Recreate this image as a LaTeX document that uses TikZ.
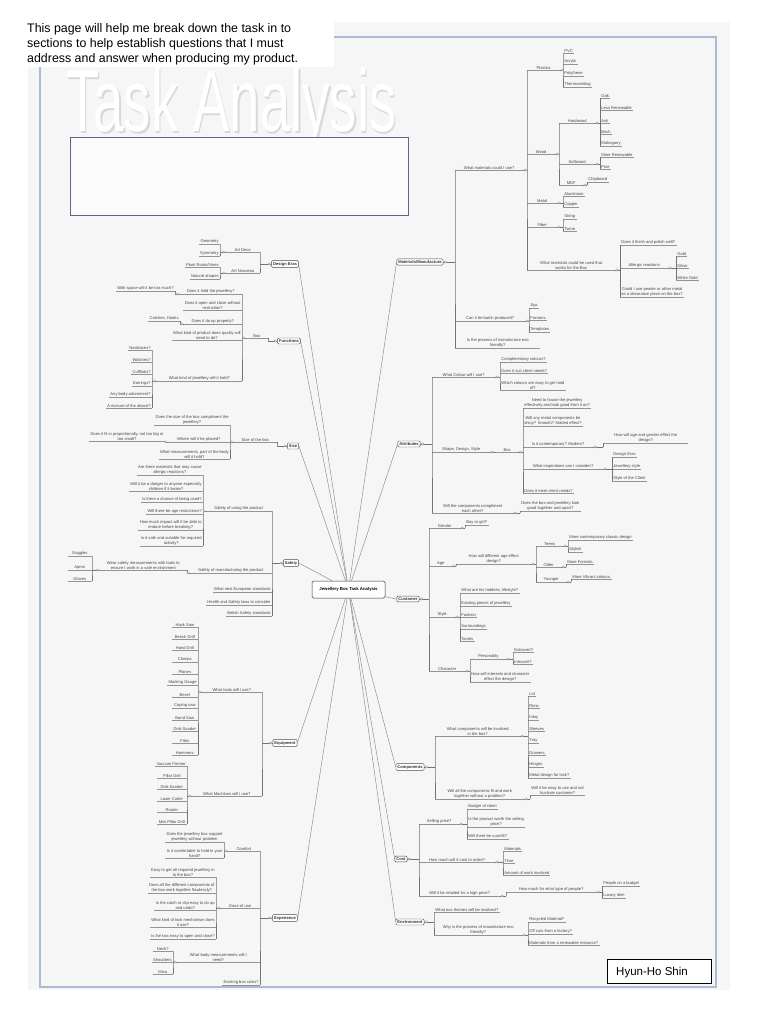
\documentclass[tikz,border=0pt]{standalone}
\usepackage{fontspec}
\setmainfont{Liberation Sans}
\definecolor{framebl}{RGB}{172,186,214}
\definecolor{boxbl}{RGB}{90,104,136}
\tikzset{
 it/.style={inner xsep=1.2pt, inner ysep=0.6pt, font=\fontsize{4.1}{4.7}\selectfont, text=black!72, align=center},
 ul/.style={draw=black!42, line width=0.4pt},
 br/.style={draw=black!55, line width=0.45pt},
 jc/.style={circle, draw=black!50, fill=white, inner sep=0pt, minimum size=2.4pt, line width=0.3pt},
 mn/.style={draw=black!70, fill=white, rounded corners=1pt, inner sep=1.5pt, font=\fontsize{4.1}{5}\selectfont\bfseries, text=black!80, line width=0.45pt},
 cn/.style={draw=black!50, line width=0.4pt},
}
\newcommand\ItR[5][]{\node[it,anchor=south west,#1] (#2) at (#3,#4) {#5};\draw[ul] (#2.south west) -- (#2.south east);}
\newcommand\ItL[5][]{\node[it,anchor=south east,#1] (#2) at (#3,#4) {#5};\draw[ul] (#2.south west) -- (#2.south east);}
\newcommand\CnR[3]{\draw[br] (#1.south east) -- (#1.south east -| #2.south west);
 \draw[br] (#2.south west) -- (#1.south east -| #2.south west) -- (#3.south west);
 \node[jc] at ([xshift=1.8pt]#1.south east) {};}
\newcommand\CnL[3]{\draw[br] (#1.south west) -- (#1.south west -| #2.south east);
 \draw[br] (#2.south east) -- (#1.south west -| #2.south east) -- (#3.south east);
 \node[jc] at ([xshift=-1.8pt]#1.south west) {};}
\newcommand\CnRM[3]{\draw[br] (#1.east) -- (#1.east -| #2.south west);
 \draw[br] (#2.south west) -- (#1.east -| #2.south west) -- (#3.south west);
 \node[jc] at ([xshift=2.2pt]#1.east) {};}
\newcommand\CnLM[3]{\draw[br] (#1.west) -- (#1.west -| #2.south east);
 \draw[br] (#2.south east) -- (#1.west -| #2.south east) -- (#3.south east);
 \node[jc] at ([xshift=-2.2pt]#1.west) {};}
\begin{document}
\begin{tikzpicture}[x=1pt,y=-1pt]
\useasboundingbox (0,0) rectangle (768,1024);
\fill[white] (0,0) rectangle (768,1024);
\fill[gray!7] (28,22) rectangle (730,990);
\draw[framebl, line width=1.3pt] (40,37) rectangle (716,987);
% watermark title
\node[anchor=north west, inner sep=0, text=gray!30] (wmk) at (67.5,69.5) {\scalebox{0.62}[1]{\fontsize{88}{88}\selectfont Task Analysis}};
\node[anchor=north west, inner sep=0, text=white] (wmk2) at (66,68) {\scalebox{0.62}[1]{\fontsize{88}{88}\selectfont Task Analysis}};
\draw[boxbl, line width=0.8pt, fill=gray!3] (70,137) rectangle (408,215);
% intro text
\fill[white] (24,17) rectangle (334,67);
\node[anchor=north west, inner sep=0, align=left, font=\fontsize{12.4}{15}\selectfont] (intro) at (27,23)
 {This page will help me break down the task in to\\sections to help establish questions that I must\\address and answer when producing my product.};
% signature
\node[draw=black, line width=0.9pt, fill=white, minimum width=104, minimum height=24, anchor=north west] (sigbox) at (607,959) {};
\node[anchor=base west, inner sep=0, font=\fontsize{11.5}{13}\selectfont] (sig) at (616,975) {Hyun-Ho Shin};
% centre
\node[draw=black!80, fill=white, rounded corners=1.5pt, minimum width=73, minimum height=17, font=\fontsize{4.3}{5}\selectfont\bfseries, line width=0.5pt] (cen) at (348.5,589.5) {Jewellery Box Task Analysis};

% ================= MATERIALS =================
\node[mn] (mat) at (420,262) {Materials/Manufacture};
\ItR[minimum width=68]{m1}{455}{170}{What materials could I use?}
\ItR[minimum width=70]{m2}{455}{321}{Can it be batch produced?}
\ItR[minimum width=85]{m3}{455}{348}{Is the process of manufacture eco\\friendly?}
\CnRM{mat}{m1}{m3}
\ItR[minimum width=33]{p0}{527}{70}{Plastics}
\ItR[minimum width=28]{w0}{527}{154}{Wood}
\ItR[minimum width=30]{me0}{527}{203}{Metal}
\ItR[minimum width=30]{f0}{527}{227}{Fiber}
\ItR[minimum width=88]{wm}{527}{270}{What materials could be used that\\works for the Box}
\CnR{m1}{p0}{wm}
\ItR{p1}{563}{53}{PVC}
\ItR{p2}{563}{64}{Acrylic}
\ItR{p3}{563}{76}{Polythene}
\ItR{p4}{563}{87}{Thermosetting}
\CnR{p0}{p1}{p4}
\ItR[minimum width=36]{hw}{559}{123}{Hardwood}
\ItR[minimum width=36]{sw}{559}{164}{Softwood}
\ItR[minimum width=24]{mdf}{559}{185}{MDF}
\CnR{w0}{hw}{mdf}
\ItR{h1}{600}{98}{Oak}
\ItR{h2}{600}{110}{Less Renewable}
\ItR{h3}{600}{123}{Ash}
\ItR{h4}{600}{134}{Birch}
\ItR{h5}{600}{146}{Mahogany}
\CnR{hw}{h1}{h5}
\ItR{sw1}{600}{157}{More Renewable}
\ItR{sw2}{600}{169}{Pine}
\CnR{sw}{sw1}{sw2}
\ItR{md1}{587}{182}{Chipboard}
\CnR{mdf}{md1}{md1}
\ItR{mt1}{563}{196}{Aluminium}
\ItR{mt2}{563}{207}{Copper}
\CnR{me0}{mt1}{mt2}
\ItR{fb1}{563}{219}{String}
\ItR{fb2}{563}{231}{Twine}
\CnR{f0}{fb1}{fb2}
\ItR{wm1}{620}{245}{Does it finish and polish well?}
\ItR[minimum width=48]{wm2}{620}{268}{Allergic reactions}
\ItR{wm3}{620}{297}{Could I use pewter or other metal\\as a decorative piece on the box?}
\CnR{wm}{wm1}{wm3}
\ItR{al1}{676}{256}{Gold}
\ItR{al2}{676}{268}{Silver}
\ItR{al3}{676}{280}{White Gold}
\CnR{wm2}{al1}{al3}
\ItR{bp1}{529}{308}{Jigs}
\ItR{bp2}{529}{320}{Formers}
\ItR{bp3}{529}{332}{Templates}
\CnR{m2}{bp1}{bp3}

% ================= ATTRIBUTES =================
\node[mn] (att) at (409,444) {Attributes};
\ItR[minimum width=63]{a1}{432}{377}{What Colour will I use?}
\ItR[minimum width=58]{a2}{432}{452}{Shape, Design, Style}
\ItR[minimum width=81]{a3}{432}{513}{Will the components compliment\\each other?}
\CnRM{att}{a1}{a3}
\ItR{a11}{500}{362}{Complimentary colours?}
\ItR{a12}{500}{373}{Does it suit client needs?}
\ItR{a13}{500}{390}{Which colours are easy to get hold\\of?}
\CnR{a1}{a11}{a13}
\ItR[minimum width=22]{abox}{496}{452}{Box}
\CnR{a2}{abox}{abox}
\ItR{ab1}{523}{408}{Need to house the jewellery\\effectively and look good from it on?}
\ItR{ab2}{523}{426}{Will any metal components be\\shiny? Smooth? Matted effect?}
\ItR[minimum width=70]{ab3}{523}{447}{Is it contemporary? Modern?}
\ItR[minimum width=80]{ab4}{523}{469}{What inspirations can I consider?}
\ItR{ab5}{523}{493}{Does it meet client needs?}
\CnR{abox}{ab1}{ab5}
\ItR[minimum width=85]{ab31}{603}{443}{How will age and gender effect the\\design?}
\CnR{ab3}{ab31}{ab31}
\ItR{ab41}{612}{457}{Design Eras}
\ItR{ab42}{612}{469}{Jewellery style}
\ItR{ab43}{612}{481}{Style of the Client}
\CnR{ab4}{ab41}{ab43}
\ItR{a31}{520}{511}{Does the box and jewellery look\\good together and apart?}
\CnR{a3}{a31}{a31}

% ================= CUSTOMER =================
\node[mn] (cus) at (408,599) {Customer};
\ItR[minimum width=31]{c1}{429}{528}{Gender}
\ItR[minimum width=23]{c2}{429}{566}{Age}
\ItR[minimum width=26]{c3}{429}{617}{Style}
\ItR[minimum width=36]{c4}{429}{671}{Character}
\CnRM{cus}{c1}{c4}
\ItR{c11}{465}{525}{Boy or girl?}
\CnR{c1}{c11}{c11}
\ItR[minimum width=75]{c21}{456}{564}{How will different age effect\\design?}
\CnR{c2}{c21}{c21}
\ItR[minimum width=27]{ct}{536}{546}{Teens}
\ItR[minimum width=25]{co}{536}{567}{Older}
\ItR[minimum width=30]{cy}{536}{582}{Younger}
\CnR{c21}{ct}{cy}
\ItR{ct1}{568}{540}{More contemporary classic design}
\ItR{ct2}{568}{552}{Stylish}
\CnR{ct}{ct1}{ct2}
\ItR{co1}{566}{564}{More Formals}
\CnR{co}{co1}{co1}
\ItR{cy1}{571}{579}{More Vibrant colours}
\CnR{cy}{cy1}{cy1}
\ItR{c31}{460}{593}{What are his hobbies, lifestyle?}
\ItR{c32}{460}{606}{Existing pieces of jewellery}
\ItR{c33}{460}{617}{Fashion}
\ItR{c34}{460}{629}{Surroundings}
\ItR{c35}{460}{641}{Tastes}
\CnR{c3}{c31}{c35}
\ItR[minimum width=36]{c41}{470}{659}{Personality}
\ItR{c42}{470}{682}{How will interests and character\\effect the design?}
\CnR{c4}{c41}{c42}
\ItR{c411}{513}{652}{Extrovert?}
\ItR{c412}{513}{664}{Introvert?}
\CnR{c41}{c411}{c412}

% ================= COMPONENTS =================
\node[mn] (com) at (410,767) {Components};
\ItR[minimum width=85]{k1}{435}{736}{What components will be involved\\in the box?}
\ItR[minimum width=89]{k2}{435}{799}{Will all the components fit and work\\together without a problem?}
\CnRM{com}{k1}{k2}
\ItR{k11}{528}{696}{Lid}
\ItR{k12}{528}{708}{Rims}
\ItR{k13}{528}{720}{Inlay}
\ItR{k14}{528}{731}{Sleeves}
\ItR{k15}{528}{743}{Tray}
\ItR{k16}{528}{755}{Drawers}
\ItR{k17}{528}{767}{Hinges}
\ItR{k18}{528}{778}{Metal design for lock?}
\CnR{k1}{k11}{k18}
\ItR{k21}{530}{795}{Will it be easy to use and not\\frustrate customer?}
\CnR{k2}{k21}{k21}

% ================= COST =================
\node[mn] (cst) at (401,859) {Cost};
\ItR[minimum width=40]{s1}{419}{824}{Selling price?}
\ItR[minimum width=76]{s2}{419}{862}{How much will it cost to make?}
\ItR[minimum width=81]{s3}{419}{896}{Will it be retailed for a high price?}
\CnRM{cst}{s1}{s3}
\ItR{s11}{467}{809}{Budget of client}
\ItR{s12}{467}{827}{Is the product worth the selling\\price?}
\ItR{s13}{467}{839}{Will there be a profit?}
\CnR{s1}{s11}{s13}
\ItR{s21}{503}{851}{Materials}
\ItR{s22}{503}{863}{Time}
\ItR{s23}{503}{875}{Amount of work involved}
\CnR{s2}{s21}{s23}
\ItR[minimum width=90]{s31}{506}{892}{How much for what type of people?}
\CnR{s3}{s31}{s31}
\ItR{s311}{602}{886}{People on a budget}
\ItR{s312}{602}{898}{Luxury item}
\CnR{s31}{s311}{s312}

% ================= ENVIRONMENT =================
\node[mn] (env) at (410,922) {Environment};
\ItR{e1}{434}{912}{What eco themes will be involved?}
\ItR[minimum width=88]{e2}{434}{935}{Why is the process of manufacture eco\\friendly?}
\CnRM{env}{e1}{e2}
\ItR{e21}{528}{922}{Recycled Material?}
\ItR{e22}{528}{934}{Off cuts from a factory?}
\ItR{e23}{528}{945}{Materials from a renewable resource?}
\CnR{e2}{e21}{e23}

% ================= DESIGN ERAS =================
\node[mn] (des) at (285,264) {Design Eras};
\ItL[minimum width=34]{d1}{260}{252}{Art Deco}
\ItL[minimum width=34]{d2}{260}{273}{Art Nouveau}
\CnLM{des}{d1}{d2}
\ItL{d11}{220}{244}{Geometry}
\ItL{d12}{220}{256}{Symmetry}
\CnL{d1}{d11}{d12}
\ItL{d21}{220}{267}{Plant Roots/Vines}
\ItL{d22}{220}{279}{Natural shapes}
\CnL{d2}{d21}{d22}

% ================= FUNCTIONS =================
\node[mn] (fun) at (289,341) {Functions};
\ItL[minimum width=22]{fbox}{268}{338}{Box}
\CnLM{fun}{fbox}{fbox}
\ItL[minimum width=62]{f1}{242}{294}{Does it hold the jewellery?}
\ItL{f2}{242}{310}{Does it open and close without\\restriction?}
\ItL[minimum width=58]{f3}{242}{324}{Does it do up properly?}
\ItL{f4}{242}{340}{What kind of product does quality will\\need to do?}
\ItL[minimum width=85]{f5}{242}{381}{What kind of jewellery will it hold?}
\CnL{fbox}{f1}{f5}
\ItL{f11}{175}{291}{With space will it be too much?}
\CnL{f1}{f11}{f11}
\ItL{f31}{180}{321}{Catches, Hooks}
\CnL{f3}{f31}{f31}
\ItL{f51}{152}{350}{Necklaces?}
\ItL{f52}{152}{362}{Watches?}
\ItL{f53}{152}{374}{Cufflinks?}
\ItL{f54}{152}{386}{Earrings?}
\ItL{f55}{152}{397}{Any body adornment?}
\ItL{f56}{152}{408}{A mixture of the above?}
\CnL{f5}{f51}{f56}

% ================= SIZE =================
\node[mn] (siz) at (293,446) {Size};
\ItL[minimum width=43]{z1}{277}{442}{Size of the box}
\CnLM{siz}{z1}{z1}
\ItL{z11}{230}{425}{Does the size of the box compliment the\\jewellery?}
\ItL[minimum width=62]{z12}{230}{442}{Where will it be placed?}
\ItL{z13}{230}{459}{What measurements, part of the body\\will it hold?}
\CnL{z1}{z11}{z13}
\ItL{z121}{165}{441}{Does it fit in proportionally, not too big or\\too small?}
\CnL{z12}{z121}{z121}

% ================= SAFETY =================
\node[mn] (saf) at (291,563) {Safety};
\ItL[minimum width=66]{sa1}{272}{511}{Safety of using the product}
\ItL[minimum width=82]{sa2}{272}{573}{Safety of manufacturing the product}
\ItL{sa3}{272}{592}{What next European standards}
\ItL{sa4}{272}{605}{Health and Safety laws to consider}
\ItL{sa5}{272}{616}{British Safety standards}
\CnLM{saf}{sa1}{sa5}
\ItL{sa11}{203}{475}{Are there materials that may cause\\allergic reactions?}
\ItL{sa12}{203}{491}{Will it be a danger to anyone especially\\children if it broke?}
\ItL{sa13}{203}{502}{Is there a chance of being used?}
\ItL{sa14}{203}{514}{Will there be age restrictions?}
\ItL{sa15}{203}{530}{How much impact will it be able to\\endure before breaking?}
\ItL{sa16}{203}{546}{Is it safe and suitable for required\\activity?}
\CnL{sa1}{sa11}{sa16}
\ItL[minimum width=87]{sa21}{187}{570}{Wear safety measurements with tools to\\ensure I work in a safe environment}
\CnL{sa2}{sa21}{sa21}
\ItL[minimum width=24]{sa211}{92}{556}{Goggles}
\ItL[minimum width=24]{sa212}{92}{570}{Apron}
\ItL[minimum width=24]{sa213}{92}{581}{Gloves}
\CnL{sa21}{sa211}{sa213}

% ================= EQUIPMENT =================
\node[mn] (equ) at (285,743) {Equipment};
\ItL[minimum width=60]{q1}{262}{692}{What tools will I use?}
\ItL[minimum width=70]{q2}{262}{796}{What Machines will I use?}
\CnLM{equ}{q1}{q2}
\ItL[minimum width=26]{q101}{198}{627}{Hack Saw}
\ItL[minimum width=26]{q102}{198}{639}{Bench Drill}
\ItL[minimum width=26]{q103}{198}{650}{Hand Drill}
\ItL[minimum width=26]{q104}{198}{662}{Clamps}
\ItL[minimum width=26]{q105}{198}{674}{Planes}
\ItL[minimum width=26]{q106}{198}{685}{Marking Gauge}
\ItL[minimum width=26]{q107}{198}{697}{Bevel}
\ItL[minimum width=26]{q108}{198}{708}{Coping saw}
\ItL[minimum width=26]{q109}{198}{720}{Band Saw}
\ItL[minimum width=26]{q110}{198}{731}{Disk Sander}
\ItL[minimum width=26]{q111}{198}{743}{Files}
\ItL[minimum width=26]{q112}{198}{755}{Hammers}
\CnL{q1}{q101}{q112}
\ItL[minimum width=30]{q201}{187}{766}{Vacuum Former}
\ItL[minimum width=30]{q202}{187}{778}{Pillar Drill}
\ItL[minimum width=30]{q203}{187}{789}{Disk Sander}
\ItL[minimum width=30]{q204}{187}{801}{Laser Cutter}
\ItL[minimum width=30]{q205}{187}{812}{Router}
\ItL[minimum width=30]{q206}{187}{824}{Mini Pillar Drill}
\CnL{q2}{q201}{q206}

% ================= EXPERIENCE =================
\node[mn] (exq) at (285,918) {Experience};
\ItL[minimum width=32]{x1}{260}{851}{Comfort}
\ItL[minimum width=39]{x2}{260}{908}{Ease of use}
\ItL[minimum width=83]{x3}{260}{962}{What body measurements will I\\need?}
\ItL{x4}{260}{985}{Existing box sizes?}
\CnLM{exq}{x1}{x4}
\ItL{x11}{224}{842}{Does the jewellery box support\\jewellery without problem}
\ItL{x12}{224}{858}{Is it comfortable to hold in your\\hand?}
\CnL{x1}{x11}{x12}
\ItL{x21}{216}{877}{Easy to get all required jewellery in\\to the box?}
\ItL{x22}{216}{893}{Does all the different components of\\the box work together flawlessly?}
\ItL{x23}{216}{910}{Is the catch or clip easy to do up\\and undo?}
\ItL{x24}{216}{927}{What kind of lock mechanism does\\it use?}
\ItL{x25}{216}{939}{Is the box easy to open and close?}
\CnL{x2}{x21}{x25}
\ItL[minimum width=20]{x31}{173}{951}{Neck?}
\ItL[minimum width=20]{x32}{173}{962}{Shoulders}
\ItL[minimum width=20]{x33}{173}{974}{Mica}
\CnL{x3}{x31}{x33}

% ================= CENTRE CONNECTORS =================
\foreach \n in {mat,att,cus,com,cst,env} \draw[cn] (cen) -- (\n.west);
\foreach \n in {des,fun,siz,saf,equ,exq} \draw[cn] (cen) -- (\n.east);
\end{tikzpicture}
\end{document}
